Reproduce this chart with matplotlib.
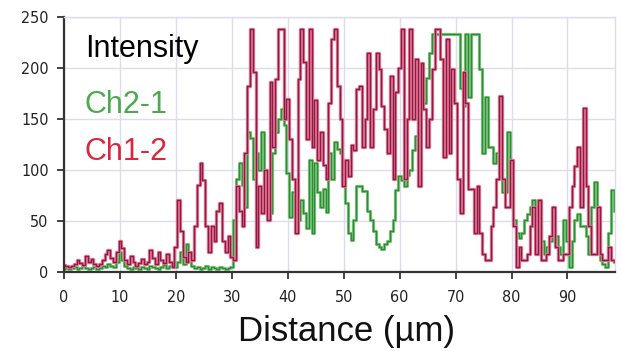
import numpy as np
import matplotlib
matplotlib.use("Agg")
import matplotlib.pyplot as plt

# Distance samples (µm)
distance = np.arange(0, 99, 0.5)

ch1_2 = [
    7, 6, 5, 6, 8, 12, 9, 7, 16, 10,
    13, 8, 6, 8, 12, 18, 22, 14, 10, 20,
    30, 24, 12, 8, 16, 10, 6, 9, 13, 8,
    10, 22, 14, 8, 20, 12, 9, 18, 10, 5,
    25, 71, 40, 15, 10, 20, 12, 45, 85, 107,
    90, 45, 20, 45, 30, 60, 68, 30, 20, 35,
    15, 12, 84, 60, 45, 117, 182, 238, 196, 25,
    84, 58, 100, 51, 186, 123, 189, 238, 238, 150,
    170, 130, 91, 38, 189, 238, 206, 130, 238, 123,
    169, 110, 137, 105, 91, 166, 228, 238, 182, 150,
    84, 110, 94, 125, 120, 179, 182, 123, 150, 215,
    123, 160, 215, 199, 163, 140, 117, 192, 91, 176,
    200, 238, 91, 150, 238, 150, 209, 84, 205, 160,
    123, 150, 199, 238, 238, 209, 113, 228, 117, 199,
    166, 91, 58, 196, 166, 81, 81, 38, 84, 38,
    18, 12, 12, 45, 64, 91, 173, 91, 64, 64,
    110, 45, 5, 25, 12, 12, 18, 45, 64, 18,
    71, 12, 12, 18, 35, 64, 25, 12, 12, 18,
    18, 64, 84, 104, 123, 64, 161, 84, 45, 18,
    18, 64, 18, 12, 12, 25, 12, 10,
]

ch2_1 = [
    3, 4, 3, 4, 5, 3, 4, 6, 4, 3,
    4, 5, 3, 4, 6, 5, 8, 6, 5, 10,
    20, 12, 6, 4, 3, 5, 4, 3, 5, 4,
    3, 6, 5, 4, 3, 5, 7, 4, 6, 8,
    5, 10, 20, 8, 27, 15, 6, 4, 5, 3,
    4, 6, 3, 5, 4, 3, 5, 4, 3, 4,
    5, 51, 91, 107, 85, 64, 137, 131, 91, 117,
    100, 137, 84, 84, 58, 117, 137, 150, 160, 144,
    97, 54, 78, 66, 51, 71, 58, 43, 110, 38,
    107, 78, 64, 81, 59, 117, 91, 127, 121, 117,
    110, 68, 38, 31, 51, 84, 84, 79, 79, 60,
    51, 40, 27, 25, 23, 27, 30, 40, 51, 80,
    94, 90, 84, 95, 100, 120, 133, 156, 160, 166,
    190, 215, 233, 233, 233, 233, 233, 233, 233, 233,
    233, 233, 180, 163, 233, 172, 233, 233, 233, 199,
    117, 172, 123, 123, 107, 117, 100, 78, 78, 137,
    78, 51, 38, 33, 38, 51, 57, 64, 71, 51,
    45, 30, 18, 25, 30, 45, 35, 25, 18, 51,
    30, 5, 30, 51, 57, 45, 45, 35, 18, 64,
    88, 38, 12, 8, 5, 38, 80, 60,
]

xticks = [0, 10, 20, 30, 40, 50, 60, 70, 80, 90]
yticks = [0, 50, 100, 150, 200, 250]

plt.rcParams['font.family'] = ['Liberation Sans', 'DejaVu Sans']

fig = plt.figure(figsize=(6.22, 3.51), dpi=100)
ax = fig.add_axes([64 / 622, (351 - 272) / 351, (615 - 64) / 622, (272 - 17) / 351])

grid_c = '#dcdcea'
ax.set_axisbelow(True)
ax.grid(True, color=grid_c, lw=1.0)

ax.plot(distance, ch2_1, drawstyle='steps-mid', color='#7cc47a', lw=2.3)
ax.plot(distance, ch2_1, drawstyle='steps-mid', color='#2f8a3a', lw=0.9)
ax.plot(distance, ch1_2, drawstyle='steps-mid', color='#e57a95', lw=2.4)
ax.plot(distance, ch1_2, drawstyle='steps-mid', color='#8c1b45', lw=1.0)

ax.set_xlim(0, 98.5)
ax.set_ylim(0, 250)
ax.set_xticks(xticks)
ax.set_yticks(yticks)

for lab in ax.get_xticklabels() + ax.get_yticklabels():
    lab.set_family('DejaVu Sans')
    lab.set_stretch('condensed')
    lab.set_fontsize(11.5)
    lab.set_color('#222222')

ax.tick_params(axis='both', direction='out', length=5, width=1.3, color='#333333')
ax.tick_params(axis='x', pad=8)
ax.tick_params(axis='y', pad=6)
for s in ['left', 'bottom']:
    ax.spines[s].set_color('#333333')
    ax.spines[s].set_linewidth(1.6)
for s in ['top', 'right']:
    ax.spines[s].set_color(grid_c)
    ax.spines[s].set_linewidth(1.0)

ax.text(0.038, 0.845, 'Intensity', transform=ax.transAxes, fontsize=22, color='black')
ax.text(0.038, 0.625, 'Ch2-1', transform=ax.transAxes, fontsize=22, color='#4caa4c')
ax.text(0.038, 0.44, 'Ch1-2', transform=ax.transAxes, fontsize=22, color='#d8283f')

fig.text(347 / 622, 3 / 351, 'Distance (µm)', ha='center', va='bottom', fontsize=25, color='#111111')

fig.savefig('out.png', dpi=100, facecolor='white')
